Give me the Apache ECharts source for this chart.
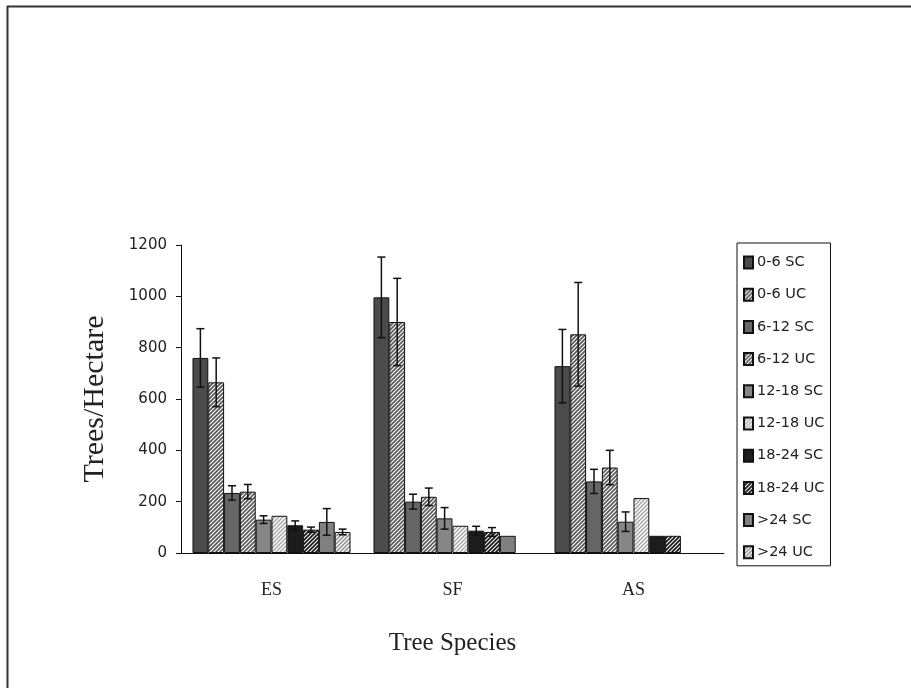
<!DOCTYPE html>
<html>
<head>
<meta charset="utf-8">
<script src="https://cdn.jsdelivr.net/npm/echarts@6/dist/echarts.min.js"></script>
<style>
html,body{margin:0;padding:0;background:#fff;}
#chart{width:911px;height:688px;}
</style>
</head>
<body>
<div id="chart"></div>
<script>
// ---- data ----
const categories = ['ES', 'SF', 'AS'];
const seriesNames = ['0-6 SC', '0-6 UC', '6-12 SC', '6-12 UC', '12-18 SC', '12-18 UC', '18-24 SC', '18-24 UC', '>24 SC', '>24 UC'];
const yTicks = [0, 200, 400, 600, 800, 1000, 1200];

const mean06SC = [760, 996, 728];
const mean06UC = [665, 900, 852];
const mean612SC = [234, 200, 279];
const mean612UC = [239, 219, 333];
const mean1218SC = [130, 135, 122];
const mean1218UC = [145, 106, 214];
const mean1824SC = [108, 87, 67];
const mean1824UC = [91, 82, 67];
const mean24SC = [121, 67, null];
const mean24UC = [82, null, null];

const err06SC = [114, 157, 143];
const err06UC = [95, 170, 202];
const err612SC = [28, 29, 47];
const err612UC = [28, 34, 67];
const err1218SC = [15, 42, 38];
const err1218UC = [0, 0, 0];
const err1824SC = [17, 17, 0];
const err1824UC = [10, 17, 0];
const err24SC = [52, 0, 0];
const err24UC = [11, 0, 0];

const means = [mean06SC, mean06UC, mean612SC, mean612UC, mean1218SC, mean1218UC, mean1824SC, mean1824UC, mean24SC, mean24UC];
const errs = [err06SC, err06UC, err612SC, err612UC, err1218SC, err1218UC, err1824SC, err1824UC, err24SC, err24UC];

// ---- styles ----
function hatch(fg, lw) {
  const c = document.createElement('canvas');
  c.width = 4; c.height = 4;
  const g = c.getContext('2d');
  g.fillStyle = '#ffffff';
  g.fillRect(0, 0, 4, 4);
  g.strokeStyle = fg;
  g.lineWidth = lw;
  g.beginPath();
  g.moveTo(-1, 5); g.lineTo(5, -1);
  g.moveTo(-1, 1); g.lineTo(1, -1);
  g.moveTo(3, 5); g.lineTo(5, 3);
  g.stroke();
  return { image: c, repeat: 'repeat' };
}
const fills = [
  '#4b4b4b',
  hatch('#555555', 1.6),
  '#666666',
  hatch('#5a5a5a', 1.6),
  '#868686',
  hatch('#a8a8a8', 1.5),
  '#1c1c1c',
  hatch('#1a1a1a', 1.8),
  '#808080',
  hatch('#8c8c8c', 1.5)
];
const catGap = 0.127;

const chart = echarts.init(document.getElementById('chart'));

const barSeries = seriesNames.map((name, i) => ({
  name: name,
  type: 'bar',
  data: means[i],
  barGap: '0%',
  barCategoryGap: (catGap * 100) + '%',
  itemStyle: { color: fills[i], borderColor: '#111', borderWidth: 1 },
  emphasis: { disabled: true },
  z: 2
}));

const errData = [];
seriesNames.forEach((name, s) => {
  categories.forEach((cat, c) => {
    if (means[s][c] != null && errs[s][c]) errData.push([c, means[s][c], errs[s][c], s]);
  });
});

const errSeries = {
  type: 'custom',
  name: 'err',
  data: errData,
  z: 5,
  silent: true,
  encode: { x: 0, y: 1 },
  renderItem: function (params, api) {
    const c = api.value(0), v = api.value(1), e = api.value(2), s = api.value(3);
    const band = api.size([1, 0])[0];
    const bw = band * (1 - catGap) / seriesNames.length;
    const x = api.coord([c, v])[0] + (s - (seriesNames.length - 1) / 2) * bw;
    const top = api.coord([c, v + e])[1];
    const bot = api.coord([c, v - e])[1];
    const st = { stroke: '#111', lineWidth: 1.5 };
    const hw = 4;
    return {
      type: 'group',
      children: [
        { type: 'line', shape: { x1: x, y1: top, x2: x, y2: bot }, style: st },
        { type: 'line', shape: { x1: x - hw, y1: top, x2: x + hw, y2: top }, style: st },
        { type: 'line', shape: { x1: x - hw, y1: bot, x2: x + hw, y2: bot }, style: st }
      ]
    };
  }
};

chart.setOption({
  animation: false,
  backgroundColor: '#ffffff',
  grid: { left: 181, right: 187, top: 245, bottom: 135, containLabel: false },
  legend: {
    data: seriesNames,
    orient: 'vertical',
    icon: 'rect',
    left: 737,
    top: 243,
    itemWidth: 9,
    itemHeight: 12,
    itemGap: 17.2,
    padding: [12, 6, 6, 6],
    borderColor: '#111',
    borderWidth: 1,
    selectedMode: false,
    textStyle: { fontFamily: 'DejaVu Sans', fontSize: 14.5, color: '#222', padding: [0, 0, 0, -1] }
  },
  xAxis: {
    type: 'category',
    data: categories,
    name: 'Tree Species',
    nameLocation: 'middle',
    nameGap: 78,
    nameTextStyle: { fontFamily: 'Liberation Serif', fontSize: 25, color: '#222' },
    axisLine: { lineStyle: { color: '#111', width: 1 } },
    axisTick: { length: 5, lineStyle: { color: '#111' } },
    axisLabel: { fontFamily: 'Liberation Serif', fontSize: 18, color: '#222', margin: 28 }
  },
  yAxis: {
    type: 'value',
    min: 0,
    max: 1200,
    interval: 200,
    name: 'Trees/Hectare',
    nameLocation: 'middle',
    nameGap: 71,
    nameRotate: 90,
    nameTextStyle: { fontFamily: 'Liberation Serif', fontSize: 30, color: '#222' },
    axisLine: { show: true, lineStyle: { color: '#111', width: 1 } },
    axisTick: { show: true, length: 5, lineStyle: { color: '#111' } },
    splitLine: { show: false },
    axisLabel: {
      fontFamily: 'DejaVu Sans', fontSize: 15, color: '#222', margin: 14,
      formatter: function (v) { return yTicks.indexOf(v) >= 0 ? String(v) : ''; }
    }
  },
  graphic: [
    { type: 'line', shape: { x1: 7.5, y1: 6, x2: 7.5, y2: 688 }, style: { stroke: '#333', lineWidth: 2 } },
    { type: 'line', shape: { x1: 7, y1: 6.5, x2: 911, y2: 6.5 }, style: { stroke: '#333', lineWidth: 2 } }
  ],
  series: barSeries.concat([errSeries])
});
</script>
</body>
</html>
